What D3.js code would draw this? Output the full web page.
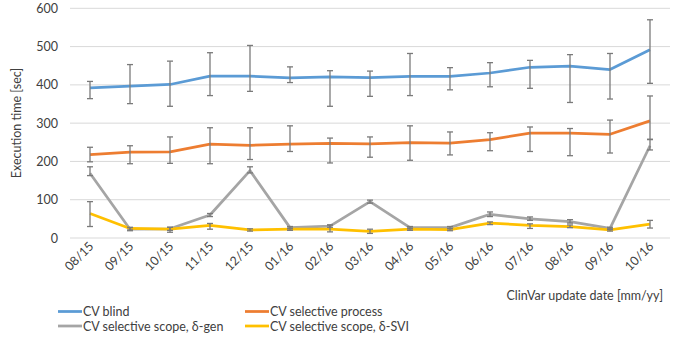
<!DOCTYPE html>
<html><head><meta charset="utf-8">
<script src="https://cdn.jsdelivr.net/npm/d3@7"></script>
<style>body{margin:0;background:#fff}svg{display:block}text{font-family:Lato,"Noto Sans",sans-serif;fill:#404040}</style>
</head><body><svg id="c" width="675" height="339"></svg>
<script>
const categories = ["08/15","09/15","10/15","11/15","12/15","01/16","02/16","03/16","04/16","05/16","06/16","07/16","08/16","09/16","10/16"];
const yTicks = [0,100,200,300,400,500,600];
const seriesNames = ["CV blind","CV selective process","CV selective scope, δ-gen","CV selective scope, δ-SVI"];
const blind      = [392,397,401,423,423,418,421,419,422,422,431,446,449,440,492];
const blindHi    = [409,453,462,484,503,447,437,436,482,445,458,464,479,482,570];
const blindLo    = [364,351,344,372,383,406,344,370,372,387,395,391,354,363,404];
const process    = [218,224,225,245,242,245,247,246,249,248,257,274,274,271,306];
const processHi  = [237,241,264,288,288,293,261,264,293,277,275,290,286,308,371];
const processLo  = [199,194,195,194,205,226,196,211,203,217,228,226,215,222,257];
const gen        = [169,23,24,60,176,27,31,95,27,27,62,50,43,25,241];
const genHi      = [186,27,28,64,186,30,34,99,30,30,68,55,48,28,258];
const genLo      = [163,19,20,56,170,24,28,91,24,24,56,46,39,22,230];
const svi        = [64,25,23,33,21,23,23,17,23,22,39,33,30,21,36];
const sviHi      = [95,28,28,38,24,26,34,23,26,25,42,37,34,24,46];
const sviLo      = [30,21,15,23,18,20,16,12,20,19,35,25,27,18,26];
const colors = ["#5B9BD5","#ED7D31","#A5A5A5","#FFC000"];

const data = [
  {name:seriesNames[0], v:blind, hi:blindHi, lo:blindLo, c:colors[0]},
  {name:seriesNames[1], v:process, hi:processHi, lo:processLo, c:colors[1]},
  {name:seriesNames[2], v:gen, hi:genHi, lo:genLo, c:colors[2]},
  {name:seriesNames[3], v:svi, hi:sviHi, lo:sviLo, c:colors[3]}
];

const svg = d3.select("#c");
const x = d3.scalePoint().domain(categories).range([70,670]).padding(0.5);
const y = d3.scaleLinear().domain([0,600]).range([238,8.3]);

// gridlines
svg.append("g").selectAll("line").data(yTicks).join("line")
  .attr("x1",70).attr("x2",670).attr("y1",d=>y(d)).attr("y2",d=>y(d))
  .attr("stroke","#d9d9d9").attr("stroke-width",1);

// y axis
const ya = svg.append("g").attr("transform","translate(70,0)")
  .call(d3.axisLeft(y).tickValues(yTicks).tickSize(0).tickPadding(12));
ya.select(".domain").remove();
ya.selectAll("text").style("font-size","12.5px").attr("fill","#404040");

// x axis
const xa = svg.append("g").attr("transform","translate(0,238)")
  .call(d3.axisBottom(x).tickSize(0));
xa.select(".domain").remove();
xa.selectAll("text").style("font-size","12.5px").attr("fill","#404040")
  .attr("text-anchor","end").attr("dy",null).attr("y",0)
  .attr("transform","translate(4,9) rotate(-45)");

// titles
svg.append("text").attr("transform","translate(21,123) rotate(-90)")
  .attr("text-anchor","middle").style("font-size","12.5px").text("Execution time [sec]");
svg.append("text").attr("x",663).attr("y",300).attr("text-anchor","end")
  .style("font-size","12.5px").text("ClinVar update date [mm/yy]");

// lines
const line = d3.line().x((d,i)=>x(categories[i])).y(d=>y(d));
svg.append("g").selectAll("path").data(data).join("path")
  .attr("d",d=>line(d.v)).attr("fill","none").attr("stroke",d=>d.c)
  .attr("stroke-width",2.75).attr("stroke-linejoin","round");

// error bars
const eb = svg.append("g").attr("stroke","#7a7a7a").attr("stroke-width",1.3);
data.forEach(s=>{
  categories.forEach((c,i)=>{
    const cx = x(c);
    eb.append("line").attr("x1",cx).attr("x2",cx).attr("y1",y(s.hi[i])).attr("y2",y(s.lo[i]));
    eb.append("line").attr("x1",cx-3).attr("x2",cx+3).attr("y1",y(s.hi[i])).attr("y2",y(s.hi[i]));
    eb.append("line").attr("x1",cx-3).attr("x2",cx+3).attr("y1",y(s.lo[i])).attr("y2",y(s.lo[i]));
  });
});

// legend
const lg = svg.append("g");
const lpos = [[58,311.5],[245,311.5],[58,326],[245,326]];
data.forEach((s,i)=>{
  const [lx,ly] = lpos[i];
  lg.append("line").attr("x1",lx).attr("x2",lx+24).attr("y1",ly).attr("y2",ly)
    .attr("stroke",s.c).attr("stroke-width",2.75);
  lg.append("text").attr("x",lx+25).attr("y",ly+4.5).style("font-size","12.5px").text(s.name);
});
</script></body></html>
